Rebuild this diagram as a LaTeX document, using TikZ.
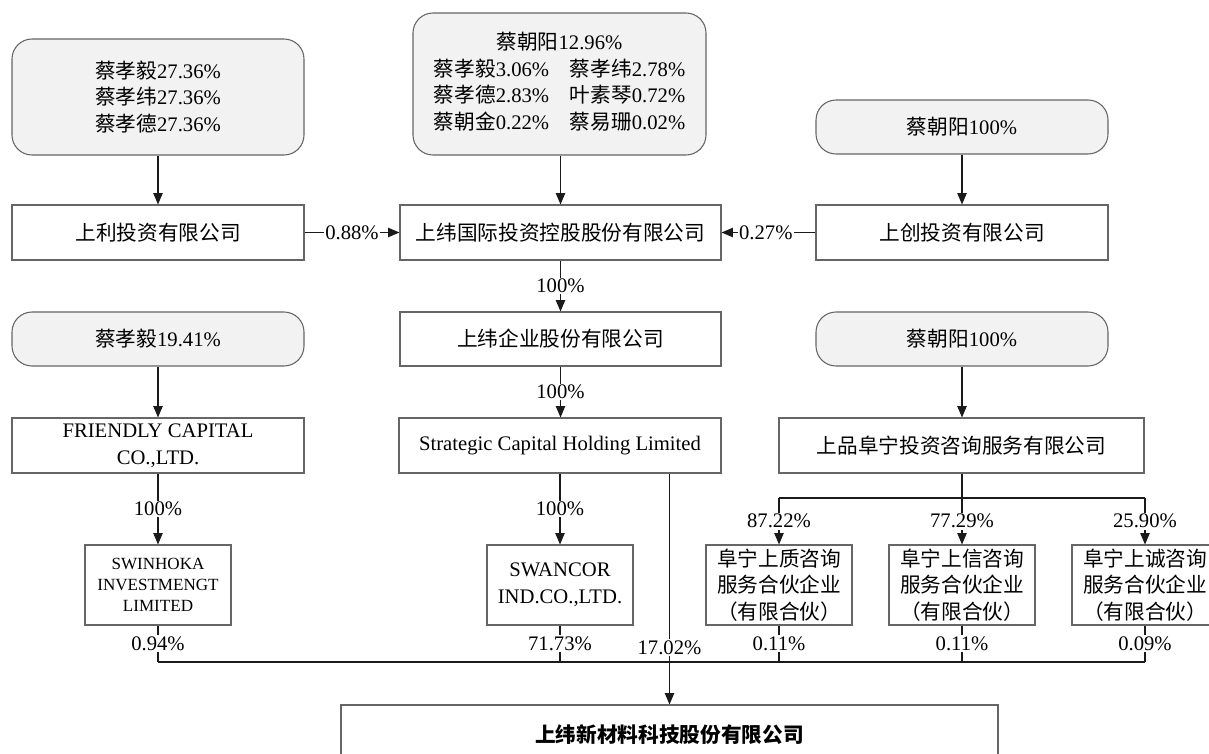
\documentclass[tikz,border=0pt]{standalone}
\usepackage{fontspec}
\setmainfont{Liberation Serif}
\newfontfamily\cjk{Noto Sans CJK SC}
\usetikzlibrary{arrows.meta}
\newcommand\zh[1]{{\cjk #1}}
\newcommand\txtsize{\fontsize{15.5}{20}\selectfont}
\definecolor{boxgray}{HTML}{666666}
\definecolor{fillgray}{HTML}{F2F2F2}
\definecolor{linecol}{HTML}{1A1A1A}
\begin{document}
\begin{tikzpicture}[x=0.75pt,y=-0.75pt,
  wh/.style 2 args={minimum width=#1*0.75pt, minimum height=#2*0.75pt},
  bx/.style={draw=boxgray, line width=0.8pt, inner sep=0pt, align=center, font=\txtsize},
  rbox/.style={bx, fill=fillgray, rounded corners=15pt},
  zhbox/.style={bx, font=\txtsize\cjk},
  conn/.style={draw=linecol, line width=0.8pt},
  arr/.style={conn, -{Triangle[length=8.5pt,width=7pt]}},
  lab/.style={fill=white, inner sep=1pt, font=\txtsize}
]
\useasboundingbox (0,0) rectangle (1209,753);
\clip (0,0) rectangle (1209,753);

% row 1: shareholders
\node[rbox, wh={292}{116}] (tl) at (158,97) {\zh{蔡孝毅}27.36\%\\\zh{蔡孝纬}27.36\%\\\zh{蔡孝德}27.36\%};
\node[rbox, wh={293}{142}] (tm) at (559.5,84) {\begin{tabular}{@{}l@{\hspace{1em}}l@{}}\multicolumn{2}{c}{\zh{蔡朝阳}12.96\%}\\\zh{蔡孝毅}3.06\% & \zh{蔡孝纬}2.78\%\\\zh{蔡孝德}2.83\% & \zh{叶素琴}0.72\%\\\zh{蔡朝金}0.22\% & \zh{蔡易珊}0.02\%\end{tabular}};
\node[rbox, wh={292}{54}] (tr) at (962,127) {\zh{蔡朝阳}100\%};

% row 2
\node[zhbox, wh={292}{55}] (shangli) at (158,232.5) {上利投资有限公司};
\node[zhbox, wh={321}{55}] (swi) at (560.5,232.5) {上纬国际投资控股股份有限公司};
\node[zhbox, wh={292}{55}] (sc) at (962,232.5) {上创投资有限公司};

% row 3
\node[rbox, wh={292}{54}] (ml) at (158,339) {\zh{蔡孝毅}19.41\%};
\node[zhbox, wh={321}{54}] (swqy) at (560.5,339) {上纬企业股份有限公司};
\node[rbox, wh={292}{54}] (mr) at (962,339) {\zh{蔡朝阳}100\%};

% row 4
\node[bx, wh={292}{55}] (friendly) at (158,445.5) {FRIENDLY CAPITAL\\CO.,LTD.};
\node[bx, wh={322}{55}] (strategic) at (560,445.5) {Strategic Capital Holding Limited};
\node[zhbox, wh={365}{55}] (shangpin) at (961.5,445.5) {上品阜宁投资咨询服务有限公司};

% row 5
\node[bx, wh={146}{80}, font=\fontsize{12.8}{15.75}\selectfont] (swinhoka) at (158,585) {SWINHOKA\\INVESTMENGT\\LIMITED};
\node[bx, wh={146}{80}] (swancor) at (560,585) {SWANCOR\\IND.CO.,LTD.};
\node[zhbox, wh={146}{80}] (pA) at (779,585) {阜宁上质咨询\\服务合伙企业\\（有限合伙）};
\node[zhbox, wh={146}{80}] (pB) at (962,585) {阜宁上信咨询\\服务合伙企业\\（有限合伙）};
\node[zhbox, wh={146}{80}] (pC) at (1145,585) {阜宁上诚咨询\\服务合伙企业\\（有限合伙）};

% bottom
\node[bx, wh={657}{60}, font=\txtsize\cjk\bfseries] (bottom) at (669.5,735) {上纬新材料科技股份有限公司};

% connectors top
\draw[arr] (tl) -- (shangli);
\draw[arr] (tm.south -| swi.north) -- (swi.north);
\draw[arr] (tr) -- (sc);
\draw[arr] (shangli) -- node[lab]{0.88\%} (swi);
\draw[arr] (sc) -- node[lab, xshift=-2pt]{0.27\%} (swi);
\draw[arr] (swi) -- node[lab]{100\%} (swqy);
\draw[arr] (swqy) -- node[lab]{100\%} (strategic.north -| swqy.south);
\draw[arr] (ml) -- (friendly);
\draw[arr] (mr) -- (shangpin.north -| mr.south);
\draw[arr] (friendly) -- node[lab]{100\%} (swinhoka);
\draw[arr] (strategic.south -| swancor.north) -- node[lab]{100\%} (swancor);

% branch under shangpin
\coordinate (brM) at (962,498);
\coordinate (brL) at (779,498);
\coordinate (brR) at (1145,498);
\draw[conn] (shangpin.south -| brM) -- (brM);
\draw[conn] (brL) -- (brR);
\draw[arr] (brL) -- node[lab]{87.22\%} (pA);
\draw[arr] (brM) -- node[lab]{77.29\%} (pB);
\draw[arr] (brR) -- node[lab]{25.90\%} (pC);

% bottom bus
\coordinate (busL) at (158,662);
\coordinate (busR) at (1145,662);
\draw[conn] (busL) -- (busR);
\draw[conn] (swinhoka) -- node[lab]{0.94\%} (busL);
\draw[conn] (swancor) -- node[lab]{71.73\%} (swancor |- busL);
\draw[conn] (pA) -- node[lab]{0.11\%} (pA |- busL);
\draw[conn] (pB) -- node[lab]{0.11\%} (pB |- busL);
\draw[conn] (pC) -- node[lab]{0.09\%} (busR);
\draw[arr] (strategic.south -| bottom.north) -- node[lab, pos=0.753]{17.02\%} (bottom);
\end{tikzpicture}
\end{document}
